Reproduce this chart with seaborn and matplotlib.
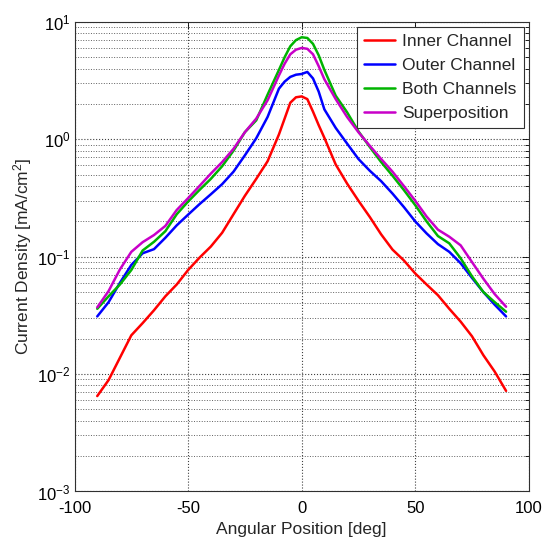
import numpy as np
import pandas as pd
import matplotlib
matplotlib.use('Agg')
import matplotlib.pyplot as plt
import matplotlib.ticker as mticker
import seaborn as sns

angle = [-90, -85, -80, -75, -70, -65, -60, -55, -50, -45, -40, -35, -30, -25, -20, -15, -10,
         -7.5, -5, -2.5, 0, 2.5, 5, 7.5, 10, 15, 20, 25, 30, 35, 40, 45, 50, 55, 60, 65, 70,
         75, 80, 85, 90]

inner = [0.0065, 0.0089, 0.0138, 0.0214, 0.0272, 0.035, 0.046, 0.058, 0.077, 0.098, 0.122,
         0.16, 0.23, 0.33, 0.46, 0.65, 1.1, 1.5, 2.05, 2.28, 2.32, 2.2, 1.72, 1.32, 1.03,
         0.61, 0.42, 0.3, 0.218, 0.155, 0.115, 0.093, 0.072, 0.058, 0.047, 0.036, 0.028,
         0.021, 0.0145, 0.0105, 0.0072]

outer = [0.031, 0.041, 0.06, 0.085, 0.107, 0.116, 0.145, 0.185, 0.228, 0.28, 0.34, 0.415,
         0.53, 0.73, 1.02, 1.55, 2.7, 3.1, 3.4, 3.55, 3.6, 3.75, 3.3, 2.55, 1.8, 1.25, 0.92,
         0.68, 0.54, 0.44, 0.345, 0.265, 0.2, 0.158, 0.128, 0.11, 0.088, 0.066, 0.05, 0.039,
         0.031]

both = [0.036, 0.046, 0.058, 0.077, 0.113, 0.134, 0.165, 0.23, 0.295, 0.37, 0.46, 0.59, 0.8,
        1.15, 1.45, 2.4, 3.9, 5.0, 6.2, 7.0, 7.4, 7.3, 6.5, 5.2, 3.9, 2.35, 1.7, 1.17, 0.86,
        0.64, 0.49, 0.37, 0.275, 0.2, 0.15, 0.13, 0.097, 0.068, 0.05, 0.041, 0.034]

superpos = [0.037, 0.051, 0.078, 0.11, 0.133, 0.153, 0.183, 0.25, 0.315, 0.4, 0.51, 0.64,
            0.83, 1.15, 1.5, 2.15, 3.5, 4.4, 5.3, 5.8, 6.0, 5.9, 5.3, 4.2, 3.25, 2.2, 1.55,
            1.15, 0.88, 0.68, 0.53, 0.4, 0.3, 0.22, 0.17, 0.148, 0.125, 0.09, 0.065, 0.048,
            0.0375]

series_names = ['Inner Channel', 'Outer Channel', 'Both Channels', 'Superposition']
colors = ['#ff0000', '#0000ff', '#00b400', '#c800c8']

frames = []
for name, vals in zip(series_names, [inner, outer, both, superpos]):
    frames.append(pd.DataFrame({'angle': angle, 'density': vals, 'series': name}))
df = pd.concat(frames, ignore_index=True)

sns.set_style('white')
plt.rcParams['font.family'] = ['Liberation Sans', 'DejaVu Sans']
plt.rcParams['mathtext.fontset'] = 'custom'
plt.rcParams['mathtext.rm'] = 'Liberation Sans'
plt.rcParams['mathtext.it'] = 'Liberation Sans'

fig = plt.figure(figsize=(5.44, 5.41), dpi=100)
ax = fig.add_axes([0.137, 0.0915, 0.835, 0.868])

sns.lineplot(data=df, x='angle', y='density', hue='series', palette=colors,
             hue_order=series_names, linewidth=1.8, ax=ax, sort=False)

ax.set_yscale('log')
ax.set_xlim(-100, 100)
ax.set_ylim(1e-3, 1e1)
ax.set_xticks([-100, -50, 0, 50, 100])
ax.set_xticklabels(['-100', '-50', '0', '50', '100'])
ax.yaxis.set_major_locator(mticker.LogLocator(base=10, numticks=10))
ax.yaxis.set_minor_locator(mticker.LogLocator(base=10, subs=np.arange(2, 10), numticks=10))
ax.yaxis.set_minor_formatter(mticker.NullFormatter())
ax.yaxis.set_major_formatter(mticker.FuncFormatter(lambda v, p: r'$10^{%d}$' % round(np.log10(v))))

ax.tick_params(axis='both', which='both', direction='in', top=True, right=True,
               labelsize=12, colors='black')
ax.tick_params(which='major', length=5, width=0.6)
ax.tick_params(which='minor', length=3, width=0.6)
ax.tick_params(axis='x', pad=7)
ax.tick_params(axis='y', pad=3)

ax.grid(True, which='major', axis='both', linestyle=':', color='#404040', linewidth=0.8)
ax.grid(True, which='minor', axis='y', linestyle=':', color='#606060', linewidth=0.7)
ax.set_axisbelow(True)

for sp in ax.spines.values():
    sp.set_color('#303030')
    sp.set_linewidth(0.8)

ax.set_xlabel('Angular Position [deg]', fontsize=12.5, labelpad=4)
ax.set_ylabel(r'Current Density [mA/cm$^2$]', fontsize=12.5, labelpad=2)

leg = ax.legend(loc='upper right', fontsize=12.5, frameon=True, fancybox=False,
                edgecolor='#303030', framealpha=1, handlelength=1.8, handletextpad=0.4,
                borderaxespad=0.3, labelspacing=0.5, borderpad=0.4)
leg.get_frame().set_linewidth(0.8)

fig.savefig('out.png', dpi=100)
